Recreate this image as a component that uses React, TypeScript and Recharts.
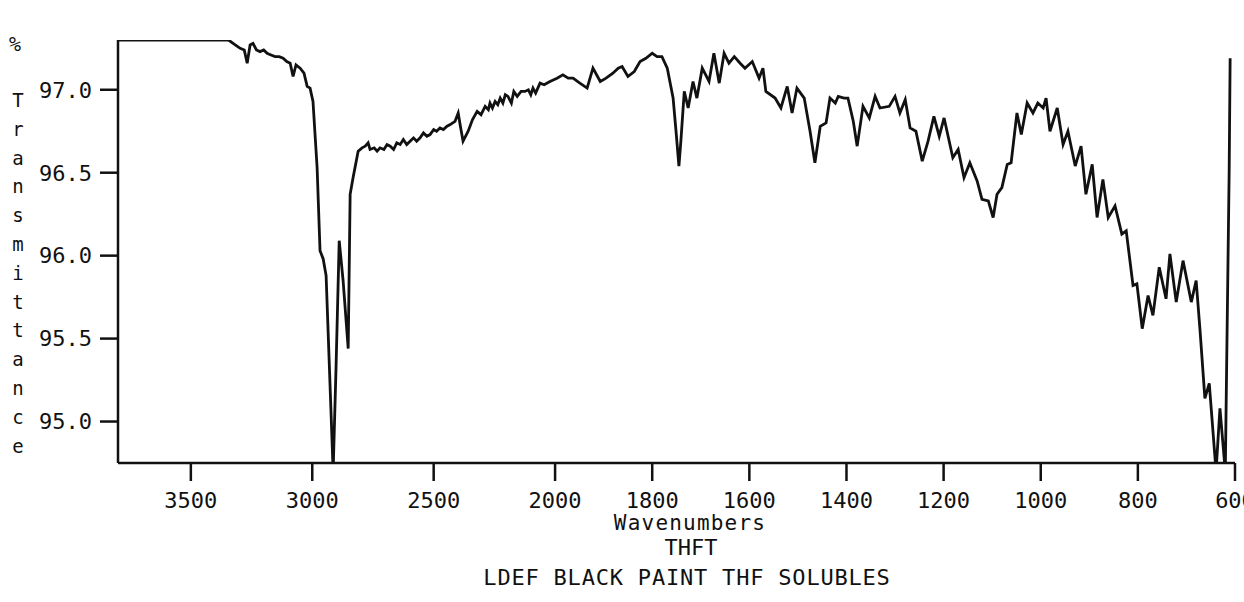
import { Label, Line, LineChart, XAxis, YAxis } from "recharts";

// IR spectrum (wavenumber in cm-1, % transmittance)
const wavenumbers = [
  3800, 3345, 3326, 3297, 3280, 3268, 3256, 3244, 3230, 3215, 3200, 3186, 3170, 3153, 3136, 3120,
  3105, 3091, 3079, 3067, 3050, 3034, 3021, 3009, 2997, 2980, 2968, 2955, 2943, 2914, 2902, 2889,
  2873, 2852, 2844, 2832, 2811, 2795, 2782, 2770, 2762, 2745, 2733, 2721, 2705, 2692, 2679, 2665,
  2652, 2638, 2625, 2611, 2597, 2583, 2570, 2556, 2542, 2528, 2515, 2500, 2488, 2474, 2460, 2445,
  2432, 2412, 2399, 2390, 2379, 2358, 2340, 2321, 2305, 2288, 2275, 2268, 2258, 2247, 2236, 2226,
  2215, 2205, 2194, 2180, 2170, 2156, 2140, 2124, 2110, 2100, 2091, 2080, 2062, 2045, 2021,
  1996, 1984, 1973, 1963, 1949, 1934, 1922, 1907, 1895, 1881, 1870, 1862, 1850, 1837, 1825, 1813,
  1800, 1790, 1780, 1769, 1757, 1751, 1745, 1741, 1734, 1726, 1716, 1708, 1697, 1683, 1673, 1662,
  1652, 1642, 1631, 1619, 1609, 1594, 1580, 1572, 1566, 1547, 1535, 1522, 1512, 1502, 1487, 1475,
  1465, 1454, 1442, 1434, 1423, 1417, 1405, 1397, 1386, 1378, 1366, 1353, 1341, 1331, 1312, 1300,
  1290, 1279, 1269, 1257, 1244, 1232, 1220, 1209, 1199, 1181, 1170, 1158, 1146, 1131, 1121, 1108,
  1098, 1090, 1080, 1069, 1061, 1049, 1040, 1028, 1016, 1006, 995, 989, 981, 966, 954, 944,
  929, 917, 907, 894, 884, 872, 861, 847, 833, 824, 810, 802, 791, 779, 769, 756,
  742, 734, 721, 707, 690, 680, 672, 662, 653, 639, 631, 620, 612, 610,
];

const transmittance = [
  97.3, 97.3, 97.28, 97.25, 97.24, 97.16, 97.27, 97.28, 97.24, 97.23, 97.24, 97.22, 97.21, 97.2, 97.2, 97.19,
  97.17, 97.16, 97.08, 97.15, 97.13, 97.1, 97.02, 97.01, 96.93, 96.53, 96.03, 95.98, 95.88, 94.7, 95.33, 96.09,
  95.85, 95.44, 96.37, 96.47, 96.63, 96.65, 96.66, 96.68, 96.64, 96.65, 96.63, 96.65, 96.64, 96.67, 96.66, 96.64,
  96.68, 96.67, 96.7, 96.67, 96.69, 96.71, 96.69, 96.71, 96.74, 96.72, 96.73, 96.76, 96.75, 96.77, 96.76, 96.78,
  96.79, 96.81, 96.86, 96.78, 96.69, 96.75, 96.82, 96.87, 96.85, 96.9, 96.88, 96.92, 96.89, 96.93, 96.91, 96.95,
  96.92, 96.97, 96.96, 96.92, 96.99, 96.96, 96.99, 96.99, 97.0, 96.97, 97.01, 96.98, 97.04, 97.03, 97.05,
  97.07, 97.09, 97.07, 97.07, 97.04, 97.01, 97.13, 97.05, 97.07, 97.1, 97.13, 97.14, 97.08, 97.11, 97.17, 97.19,
  97.22, 97.2, 97.2, 97.13, 96.95, 96.75, 96.54, 96.69, 96.99, 96.89, 97.05, 96.95, 97.13, 97.05, 97.22, 97.04,
  97.22, 97.16, 97.2, 97.16, 97.13, 97.17, 97.07, 97.13, 96.99, 96.95, 96.89, 97.02, 96.86, 97.01, 96.95, 96.75,
  96.56, 96.78, 96.8, 96.95, 96.92, 96.96, 96.95, 96.95, 96.81, 96.66, 96.9, 96.83, 96.96, 96.89, 96.9, 96.96,
  96.86, 96.94, 96.77, 96.75, 96.57, 96.69, 96.84, 96.72, 96.83, 96.59, 96.64, 96.47, 96.56, 96.45, 96.34, 96.33,
  96.23, 96.37, 96.41, 96.55, 96.56, 96.86, 96.73, 96.92, 96.86, 96.92, 96.89, 96.95, 96.75, 96.89, 96.67, 96.75,
  96.54, 96.66, 96.37, 96.55, 96.23, 96.46, 96.23, 96.3, 96.13, 96.15, 95.82, 95.83, 95.56, 95.76, 95.64, 95.93,
  95.74, 96.01, 95.72, 95.97, 95.72, 95.85, 95.55, 95.14, 95.23, 94.7, 95.08, 94.7, 96.51, 97.19,
];

const xTicks = [3500, 3000, 2500, 2000, 1800, 1600, 1400, 1200, 1000, 800, 600];
const yTicks = [95.0, 95.5, 96.0, 96.5, 97.0];

// the chart paper runs at half scale above 2000 cm-1
const toPos = (wn: number) => (wn > 2000 ? 2000 + (wn - 2000) / 2 : wn);
const fromPos = (p: number) => Math.round(p > 2000 ? 2000 + (p - 2000) * 2 : p);

const data = wavenumbers.map((wn, i) => ({ pos: toPos(wn), wn, t: transmittance[i] }));

const FONT = "'DejaVu Sans Mono', 'Liberation Mono', monospace";
const INK = "#111";

function YTitle() {
  const letters = "Transmittance".split("");
  return (
    <g fontFamily={FONT} fill={INK}>
      <text x={15} y={44} fontSize={20} textAnchor="middle" dominantBaseline="central">%</text>
      {letters.map((ch, i) => (
        <text key={i} x={18} y={100 + i * 28.8} fontSize={19} textAnchor="middle" dominantBaseline="central">
          {ch}
        </text>
      ))}
    </g>
  );
}

function XTitle() {
  return (
    <g fontFamily={FONT} fill={INK} textAnchor="middle">
      <text x={690} y={530} fontSize={21} letterSpacing={1.2}>Wavenumbers</text>
      <text x={691} y={555} fontSize={22}>THFT</text>
      <text x={687} y={585} fontSize={22} letterSpacing={0.8}>LDEF BLACK PAINT THF SOLUBLES</text>
    </g>
  );
}

export default function App() {
  return (
    <div style={{ position: "absolute", left: 0, top: 0, background: "#fff" }}>
      <LineChart width={1244} height={602} data={data} margin={{ top: 40, right: 9, left: 0, bottom: 0 }}>
        <XAxis
          type="number"
          dataKey="pos"
          domain={[600, 2900]}
          reversed
          ticks={xTicks.map(toPos)}
          interval={0}
          tickFormatter={(v) => String(fromPos(v))}
          height={139}
          tickSize={18}
          tickMargin={11}
          axisLine={{ stroke: INK, strokeWidth: 2.5 }}
          tickLine={{ stroke: INK, strokeWidth: 2.5 }}
          tick={{ fill: INK, fontSize: 22, fontFamily: FONT }}
        >
          <Label content={() => <XTitle />} />
        </XAxis>
        <YAxis
          type="number"
          domain={[94.75, 97.3]}
          allowDataOverflow
          ticks={yTicks}
          interval={0}
          tickFormatter={(v) => v.toFixed(1)}
          width={118}
          tickSize={18}
          tickMargin={8}
          axisLine={{ stroke: INK, strokeWidth: 2.5 }}
          tickLine={{ stroke: INK, strokeWidth: 2.5 }}
          tick={{ fill: INK, fontSize: 22, fontFamily: FONT }}
        >
          <Label content={() => <YTitle />} />
        </YAxis>
        <Line
          type="linear"
          dataKey="t"
          stroke={INK}
          strokeWidth={2.8}
          dot={false}
          isAnimationActive={false}
        />
      </LineChart>
    </div>
  );
}
